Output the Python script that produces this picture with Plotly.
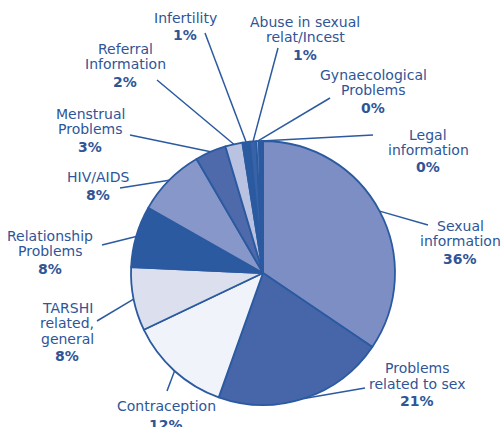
import math
import plotly.graph_objects as go

# ---- data ----
names = ["Sexual information", "Problems related to sex", "Contraception",
         "TARSHI related, general", "Relationship Problems", "HIV/AIDS",
         "Menstrual Problems", "Referral Information", "Infertility",
         "Abuse in sexual relat/Incest", "Gynaecological Problems", "Legal information"]
# slice shares estimated from the drawn angles
values = [34.5, 21.0, 12.5, 7.8, 7.5, 8.4, 3.8, 2.1, 0.9, 0.8, 0.3, 0.5]
# printed percentages
pct_labels = ["36%", "21%", "12%", "8%", "8%", "8%", "3%", "2%", "1%", "1%", "0%", "0%"]
# label text lines as printed
label_lines = [
    ["Sexual", "information"],
    ["Problems", "related to sex"],
    ["Contraception"],
    ["TARSHI", "related,", "general"],
    ["Relationship", "Problems"],
    ["HIV/AIDS"],
    ["Menstrual", "Problems"],
    ["Referral", "Information"],
    ["Infertility"],
    ["Abuse in sexual", "relat/Incest"],
    ["Gynaecological", "Problems"],
    ["Legal", "information"],
]
colors = ["#7C8EC4", "#4766AA", "#F1F3FA", "#DCE0EE", "#2B5AA0", "#8797C9",
          "#4F6AAA", "#B9C2E0", "#2B5AA0", "#3863A8", "#C4CBE6", "#2B5AA0"]

# ---- layout constants (pixels) ----
W, H = 502, 427
CX, CY, R = 263, 273, 132
TXT = "#2F5597"
LINE = "#2B5AA0"
# label placement: center x, y of each text line (last is the percent), line end near label
label_pos = [
    (460, [226, 241, 259], (428, 225)),
    (417, [368, 384, 401], (365, 388)),
    (166, [406, 425], (167, 391)),
    (67, [308, 323, 339, 356], (97, 321)),
    (50, [236, 251, 269], (102, 245)),
    (98, [177, 195], (120, 188)),
    (90, [114, 129, 147], (130, 135)),
    (125, [49, 64, 82], (157, 80)),
    (185, [18, 35], (205, 33)),
    (305, [22, 37, 55], (278, 48)),
    (373, [75, 90, 108], (330, 98)),
    (428, [135, 150, 167], (373, 135)),
]

def px(x):
    return x / W

def py(y):
    return 1 - y / H

fig = go.Figure(go.Pie(
    labels=names, values=values, sort=False, direction="clockwise", rotation=0,
    marker=dict(colors=colors, line=dict(color=LINE, width=1.8)),
    textinfo="none", hoverinfo="label+percent", showlegend=False,
    domain=dict(x=[px(CX - R), px(CX + R)], y=[py(CY + R), py(CY - R)]),
))

total = sum(values)
annotations = []
shapes = []
cum = 0.0
for i, v in enumerate(values):
    mid = (cum + v / 2) / total * 2 * math.pi
    cum += v
    ex = CX + R * math.sin(mid)
    ey = CY - R * math.cos(mid)
    lx, ys, (tx, ty) = label_pos[i]
    shapes.append(dict(type="line", xref="paper", yref="paper",
                       x0=px(ex), y0=py(ey), x1=px(tx), y1=py(ty),
                       line=dict(color=LINE, width=1.5)))
    lines = label_lines[i] + [pct_labels[i]]
    for j, (t, yy) in enumerate(zip(lines, ys)):
        bold = j == len(lines) - 1
        annotations.append(dict(
            x=px(lx), y=py(yy), xref="paper", yref="paper", text=f"<b>{t}</b>" if bold else t,
            showarrow=False, xanchor="center", yanchor="middle",
            font=dict(family="DejaVu Sans", size=14, color=TXT)))

fig.update_layout(
    width=W, height=H, margin=dict(l=0, r=0, t=0, b=0),
    paper_bgcolor="white", plot_bgcolor="white",
    annotations=annotations, shapes=shapes,
)
fig.write_html("out.html", config={"displayModeBar": False},
               post_script="document.body.style.margin='0';document.body.style.overflow='hidden';")
